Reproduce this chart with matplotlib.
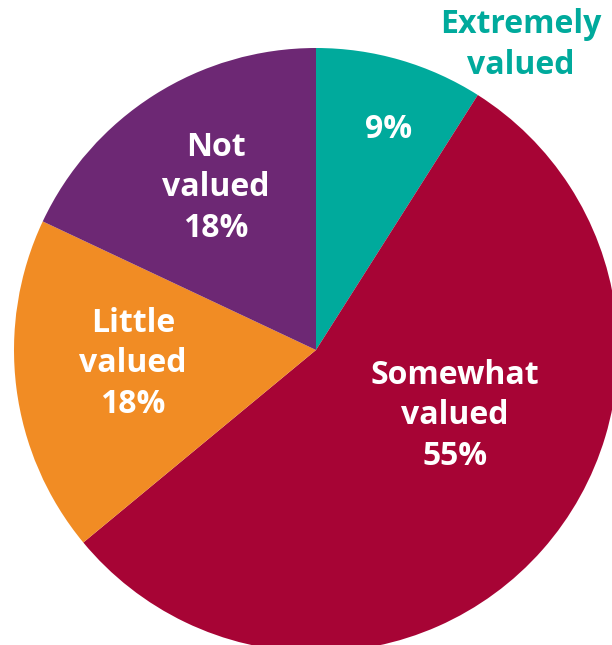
"""Pie chart: how valued respondents feel."""

import matplotlib
matplotlib.use("Agg")
import matplotlib.pyplot as plt

labels = ["Extremely valued", "Somewhat valued", "Little valued", "Not valued"]
shares = [9, 55, 18, 18]
colors = ["#00AA9C", "#A70435", "#F18C24", "#6D2874"]

W, H = 612, 645
fig = plt.figure(figsize=(W / 100, H / 100), dpi=100)
ax = fig.add_axes([0, 0, 1, 1])

# pie in pixel coords so it can run off the bottom/right edges like the original
cx, cy, r = 316, H - 350, 302
ax.pie(shares, colors=colors, startangle=90, counterclock=False,
       center=(cx, cy), radius=r, wedgeprops=dict(linewidth=0))
ax.set_xlim(0, W)
ax.set_ylim(0, H)
ax.set_aspect("equal")
ax.axis("off")

font = dict(family=["Open Sans", "DejaVu Sans"], weight="bold",
            fontsize=23, ha="center", va="center", linespacing=1.3)

ax.text(521, H - 45, "Extremely\nvalued", color=colors[0], **font)
ax.text(389, H - 130, f"{shares[0]}%", color="white", **font)
ax.text(455, H - 416, f"Somewhat\nvalued\n{shares[1]}%", color="white", **font)
ax.text(133, H - 364, f"Little\nvalued\n{shares[2]}%", color="white", **font)
ax.text(216, H - 188, f"Not\nvalued\n{shares[3]}%", color="white", **font)

fig.savefig("out.png", dpi=100, facecolor="white")
